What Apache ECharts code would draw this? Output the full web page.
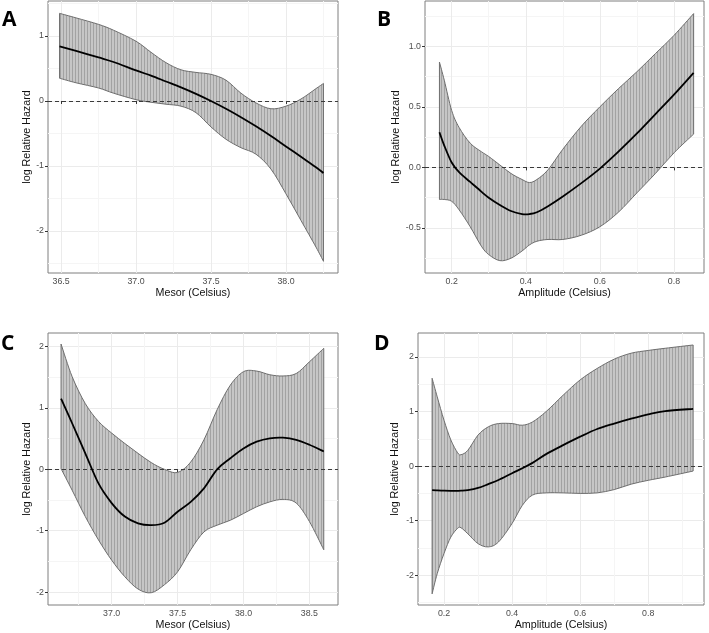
<!DOCTYPE html>
<html><head><meta charset="utf-8">
<script src="https://cdn.jsdelivr.net/npm/echarts@6/dist/echarts.min.js"></script>
<style>html,body{margin:0;padding:0;background:#fff}#c{width:709px;height:633px}</style>
</head><body><div id="c"></div>
<script>
// ---------- Panel A : Mesor ----------
const xA   = [36.49, 36.6, 36.75, 36.85, 37.0, 37.1, 37.2, 37.3, 37.4, 37.5, 37.6, 37.7, 37.8, 37.9, 38.0, 38.1, 38.2, 38.25];
const midA = [0.84, 0.77, 0.67, 0.60, 0.47, 0.39, 0.30, 0.21, 0.11, 0.0, -0.12, -0.25, -0.39, -0.54, -0.70, -0.86, -1.02, -1.11];
const hiA  = [1.35, 1.28, 1.18, 1.09, 0.92, 0.75, 0.59, 0.48, 0.44, 0.41, 0.32, 0.12, -0.03, -0.12, -0.08, 0.03, 0.19, 0.27];
const loA  = [0.35, 0.28, 0.20, 0.12, 0.02, -0.02, -0.05, -0.08, -0.18, -0.40, -0.59, -0.72, -0.82, -1.05, -1.43, -1.84, -2.25, -2.47];
// ---------- Panel B : Amplitude ----------
const xB   = [0.167, 0.18, 0.2, 0.22, 0.25, 0.28, 0.3, 0.33, 0.36, 0.39, 0.41, 0.43, 0.46, 0.5, 0.55, 0.6, 0.65, 0.7, 0.75, 0.8, 0.853];
const midB = [0.29, 0.18, 0.04, -0.04, -0.12, -0.20, -0.25, -0.31, -0.36, -0.385, -0.385, -0.37, -0.32, -0.24, -0.13, -0.01, 0.13, 0.28, 0.44, 0.60, 0.78];
const hiB  = [0.87, 0.72, 0.47, 0.33, 0.20, 0.13, 0.09, 0.02, -0.05, -0.10, -0.125, -0.10, -0.02, 0.15, 0.34, 0.50, 0.65, 0.79, 0.94, 1.09, 1.27];
const loB  = [-0.265, -0.265, -0.28, -0.35, -0.49, -0.65, -0.72, -0.77, -0.75, -0.69, -0.64, -0.61, -0.595, -0.595, -0.56, -0.49, -0.37, -0.21, -0.05, 0.12, 0.275];
// ---------- Panel C : Mesor ----------
const xC   = [36.616, 36.7, 36.8, 36.9, 37.0, 37.1, 37.2, 37.3, 37.4, 37.5, 37.6, 37.7, 37.8, 37.9, 38.0, 38.1, 38.2, 38.3, 38.4, 38.5, 38.609];
const midC = [1.15, 0.75, 0.26, -0.23, -0.55, -0.77, -0.88, -0.91, -0.87, -0.69, -0.53, -0.31, 0.0, 0.18, 0.34, 0.45, 0.505, 0.515, 0.48, 0.40, 0.29];
const hiC  = [2.04, 1.51, 1.07, 0.78, 0.59, 0.42, 0.26, 0.11, 0.0, -0.05, 0.12, 0.48, 0.97, 1.37, 1.59, 1.60, 1.54, 1.52, 1.56, 1.75, 1.97];
const loC  = [0.01, -0.34, -0.77, -1.15, -1.48, -1.75, -1.95, -2.01, -1.88, -1.67, -1.31, -1.02, -0.91, -0.83, -0.72, -0.61, -0.53, -0.49, -0.55, -0.85, -1.31];
// ---------- Panel D : Amplitude ----------
const xD   = [0.165, 0.18, 0.2, 0.22, 0.24, 0.25, 0.27, 0.3, 0.33, 0.36, 0.4, 0.43, 0.46, 0.5, 0.55, 0.6, 0.65, 0.7, 0.75, 0.8, 0.85, 0.932];
const midD = [-0.44, -0.445, -0.45, -0.452, -0.452, -0.45, -0.44, -0.40, -0.33, -0.255, -0.13, -0.04, 0.06, 0.22, 0.385, 0.54, 0.68, 0.78, 0.87, 0.95, 1.01, 1.05];
const hiD  = [1.61, 1.27, 0.84, 0.48, 0.245, 0.21, 0.29, 0.57, 0.72, 0.78, 0.78, 0.75, 0.81, 1.0, 1.30, 1.58, 1.79, 1.96, 2.07, 2.12, 2.16, 2.22];
const loD  = [-2.34, -1.97, -1.60, -1.30, -1.14, -1.13, -1.24, -1.42, -1.48, -1.39, -1.05, -0.72, -0.53, -0.49, -0.49, -0.50, -0.49, -0.43, -0.33, -0.26, -0.20, -0.09];

// ---------- tick labels ----------
const xTicksA = [36.5, 37.0, 37.5, 38.0], xMinorA = [36.75, 37.25, 37.75, 38.25];
const yTicksA = [-2, -1, 0, 1],          yMinorA = [-2.5, -1.5, -0.5, 0.5, 1.5];
const xTicksB = [0.2, 0.4, 0.6, 0.8],    xMinorB = [0.3, 0.5, 0.7];
const yTicksB = [-0.5, 0.0, 0.5, 1.0],   yMinorB = [-0.75, -0.25, 0.25, 0.75, 1.25];
const xTicksC = [37.0, 37.5, 38.0, 38.5], xMinorC = [36.75, 37.25, 37.75, 38.25];
const yTicksC = [-2, -1, 0, 1, 2],       yMinorC = [-1.5, -0.5, 0.5, 1.5];
const xTicksD = [0.2, 0.4, 0.6, 0.8],    xMinorD = [0.3, 0.5, 0.7, 0.9];
const yTicksD = [-2, -1, 0, 1, 2],       yMinorD = [-2.5, -1.5, -0.5, 0.5, 1.5];

const panelLabels = ['A', 'B', 'C', 'D'];
const xTitles = ['Mesor (Celsius)', 'Amplitude (Celsius)', 'Mesor (Celsius)', 'Amplitude (Celsius)'];
const yTitle = 'log Relative Hazard';

// ---------- layout / style ----------
const FONT = '"Liberation Sans", Arial, sans-serif';
const panels = [
  {x: xA, mid: midA, lo: loA, hi: hiA, xt: xTicksA, xm: xMinorA, yt: yTicksA, ym: yMinorA,
   xr: [36.413, 38.347], yr: [-2.65, 1.54], grid: {left: 48, top: 1, width: 290, height: 272},
   xf: v => v.toFixed(1), yf: v => String(v), yGap: 13, lab: {left: 2, top: 10}},
  {x: xB, mid: midB, lo: loB, hi: hiB, xt: xTicksB, xm: xMinorB, yt: yTicksB, ym: yMinorB,
   xr: [0.128, 0.881], yr: [-0.872, 1.374], grid: {left: 425, top: 1, width: 279, height: 272},
   xf: v => v.toFixed(1), yf: v => v.toFixed(1), yGap: 23, lab: {left: 377, top: 10}},
  {x: xC, mid: midC, lo: loC, hi: hiC, xt: xTicksC, xm: xMinorC, yt: yTicksC, ym: yMinorC,
   xr: [36.517, 38.717], yr: [-2.21, 2.22], grid: {left: 48, top: 333, width: 290, height: 272},
   xf: v => v.toFixed(1), yf: v => String(v), yGap: 13, lab: {left: 1, top: 334}},
  {x: xD, mid: midD, lo: loD, hi: hiD, xt: xTicksD, xm: xMinorD, yt: yTicksD, ym: yMinorD,
   xr: [0.1235, 0.964], yr: [-2.545, 2.44], grid: {left: 418, top: 333, width: 286, height: 272},
   xf: v => v.toFixed(1), yf: v => String(v), yGap: 17, lab: {left: 374, top: 334}}
];

// striped fill pattern (vertical error-bar look)
const pc = document.createElement('canvas');
pc.width = 3; pc.height = 4;
const g = pc.getContext('2d');
g.fillStyle = '#c6c6c6'; g.fillRect(0, 0, 3, 4);
g.fillStyle = '#a2a2a2'; g.fillRect(0, 0, 1, 4);
const stripe = {image: pc, repeat: 'repeat'};

function smoothPath(pts, move) {
  let d = (move ? 'M' : 'L') + pts[0][0] + ' ' + pts[0][1];
  for (let i = 0; i < pts.length - 1; i++) {
    const p0 = pts[Math.max(0, i - 1)], p1 = pts[i], p2 = pts[i + 1], p3 = pts[Math.min(pts.length - 1, i + 2)];
    const t = 1 / 6;
    const c1 = [p1[0] + (p2[0] - p0[0]) * t, p1[1] + (p2[1] - p0[1]) * t];
    const c2 = [p2[0] - (p3[0] - p1[0]) * t, p2[1] - (p3[1] - p1[1]) * t];
    d += ' C' + c1[0] + ' ' + c1[1] + ' ' + c2[0] + ' ' + c2[1] + ' ' + p2[0] + ' ' + p2[1];
  }
  return d;
}

const grids = [], xAxes = [], yAxes = [], series = [], graphics = [];
panels.forEach((p, i) => {
  grids.push(Object.assign({show: true, borderColor: '#7f7f7f', borderWidth: 1, backgroundColor: 'transparent', containLabel: false}, p.grid));
  xAxes.push({gridIndex: i, type: 'value', min: p.xr[0], max: p.xr[1], position: 'bottom',
    axisLine: {show: false},
    axisTick: {show: true, length: 3, lineStyle: {color: '#333'}, customValues: p.xt},
    axisLabel: {customValues: p.xt, formatter: p.xf, color: '#4d4d4d', fontSize: 8.8, fontFamily: FONT, margin: 4},
    splitLine: {show: true, lineStyle: {color: '#ebebeb', width: 1}},
    name: xTitles[i], nameLocation: 'middle', nameGap: 15,
    nameTextStyle: {color: '#111', fontSize: 10.7, fontFamily: FONT}});
  xAxes.push({gridIndex: i, type: 'value', min: p.xr[0], max: p.xr[1], position: 'top',
    axisLine: {show: false}, axisTick: {show: false, customValues: p.xm}, axisLabel: {show: false, customValues: p.xm},
    splitLine: {show: true, lineStyle: {color: '#f5f5f5', width: 1}}});
  yAxes.push({gridIndex: i, type: 'value', min: p.yr[0], max: p.yr[1], position: 'left',
    axisLine: {show: false},
    axisTick: {show: true, length: 3, lineStyle: {color: '#333'}, customValues: p.yt},
    axisLabel: {customValues: p.yt, formatter: p.yf, color: '#4d4d4d', fontSize: 8.8, fontFamily: FONT, margin: 4},
    splitLine: {show: true, lineStyle: {color: '#ebebeb', width: 1}},
    name: yTitle, nameLocation: 'middle', nameGap: p.yGap,
    nameTextStyle: {color: '#111', fontSize: 10.7, fontFamily: FONT}});
  yAxes.push({gridIndex: i, type: 'value', min: p.yr[0], max: p.yr[1], position: 'right',
    axisLine: {show: false}, axisTick: {show: false, customValues: p.ym}, axisLabel: {show: false, customValues: p.ym},
    splitLine: {show: true, lineStyle: {color: '#f5f5f5', width: 1}}});

  const xs = p.x, lo = p.lo, hi = p.hi, mid = p.mid;
  // confidence band
  series.push({type: 'custom', xAxisIndex: 2 * i, yAxisIndex: 2 * i, silent: true, z: 2,
    data: xs.map((x, k) => [x, lo[k], hi[k]]),
    encode: {x: 0, y: [1, 2]},
    renderItem: function (params, api) {
      if (params.dataIndex !== 0) return null;
      const up = xs.map((x, k) => api.coord([x, hi[k]]));
      const dn = xs.map((x, k) => api.coord([x, lo[k]])).reverse();
      const d = smoothPath(up, true) + ' ' + smoothPath(dn, false) + ' Z';
      return {type: 'path', shape: {pathData: d}, style: {fill: stripe, stroke: '#6e6e6e', lineWidth: 1}};
    }});
  // zero reference line (dashed)
  series.push({type: 'line', xAxisIndex: 2 * i, yAxisIndex: 2 * i, z: 3, silent: true,
    data: [], markLine: {silent: true, symbol: ['none', 'none'], label: {show: false},
      lineStyle: {type: [4, 3], color: '#3a3a3a', width: 1}, data: [{yAxis: 0}], animation: false}});
  // fitted curve
  series.push({type: 'custom', xAxisIndex: 2 * i, yAxisIndex: 2 * i, silent: true, z: 5,
    data: xs.map((x, k) => [x, mid[k]]),
    encode: {x: 0, y: 1},
    renderItem: function (params, api) {
      if (params.dataIndex !== 0) return null;
      const pts = xs.map((x, k) => api.coord([x, mid[k]]));
      return {type: 'path', shape: {pathData: smoothPath(pts, true)},
        style: {fill: null, stroke: '#000', lineWidth: 1.8, lineJoin: 'round'}};
    }});

  graphics.push({type: 'text', left: p.lab.left, top: p.lab.top,
    style: {text: panelLabels[i], font: 'bold 21px "Open Sans", sans-serif', fill: '#000'}});
});

const chart = echarts.init(document.getElementById('c'), null, {renderer: 'canvas'});
chart.setOption({
  animation: false,
  backgroundColor: '#fff',
  grid: grids, xAxis: xAxes, yAxis: yAxes, series: series, graphic: graphics
});
</script></body></html>
